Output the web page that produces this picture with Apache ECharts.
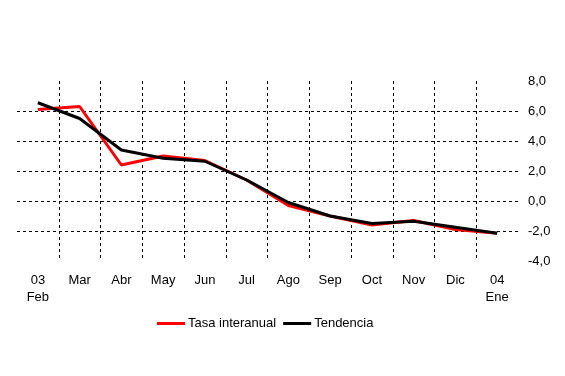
<!DOCTYPE html>
<html>
<head>
<meta charset="utf-8">
<script src="https://cdn.jsdelivr.net/npm/echarts@6/dist/echarts.min.js"></script>
<style>html,body{margin:0;padding:0;background:#fff;}#c{width:565px;height:376px;}</style>
</head>
<body>
<div id="c"></div>
<script>
var categories = ['03\nFeb','Mar','Abr','May','Jun','Jul','Ago','Sep','Oct','Nov','Dic','04\nEne'];
var tasaInteranual = [6.1, 6.3, 2.4, 3.0, 2.7, 1.4, -0.3, -1.0, -1.6, -1.3, -1.9, -2.15];
var tendencia = [6.55, 5.5, 3.4, 2.85, 2.65, 1.4, -0.1, -1.0, -1.5, -1.35, -1.75, -2.15];
var yTickMin = -4, yTickMax = 8, yTickStep = 2;

var chart = echarts.init(document.getElementById('c'));
var font = 'Liberation Sans, Arial, sans-serif';
chart.setOption({
  animation: false,
  backgroundColor: '#fff',
  grid: {left: 17, right: 47, top: 81, bottom: 115},
  legend: {
    left: 157, top: 317, padding: 0,
    itemWidth: 28, itemHeight: 3, itemGap: 7,
    icon: 'rect',
    textStyle: {fontFamily: font, fontSize: 13, color: '#000', padding: [0,0,0,-2]},
    data: ['Tasa interanual', 'Tendencia']
  },
  xAxis: {
    type: 'category',
    data: categories,
    boundaryGap: true,
    axisLine: {show: false},
    axisTick: {show: false},
    axisLabel: {fontFamily: font, fontSize: 13, color: '#000', margin: 11, lineHeight: 17, interval: 0},
    splitLine: {show: true, showMinLine: false, showMaxLine: false, interval: 0,
      lineStyle: {type: [3,3], color: '#000', width: 1}}
  },
  yAxis: {
    type: 'value',
    position: 'right',
    min: yTickMin, max: yTickMax, interval: yTickStep,
    axisLine: {show: false},
    axisTick: {show: false},
    axisLabel: {fontFamily: font, fontSize: 13, color: '#000', margin: 10,
      formatter: function(v){ return v.toFixed(1).replace('.', ','); }},
    splitLine: {show: true, showMinLine: false, showMaxLine: false,
      lineStyle: {type: [3,3], color: '#000', width: 1}}
  },
  series: [
    {name: 'Tasa interanual', type: 'line', data: tasaInteranual, showSymbol: false, symbol: 'none',
      color: '#ff0000', lineStyle: {color: '#ff0000', width: 3}},
    {name: 'Tendencia', type: 'line', data: tendencia, showSymbol: false, symbol: 'none',
      color: '#000000', lineStyle: {color: '#000000', width: 3}}
  ]
});
</script>
</body>
</html>
